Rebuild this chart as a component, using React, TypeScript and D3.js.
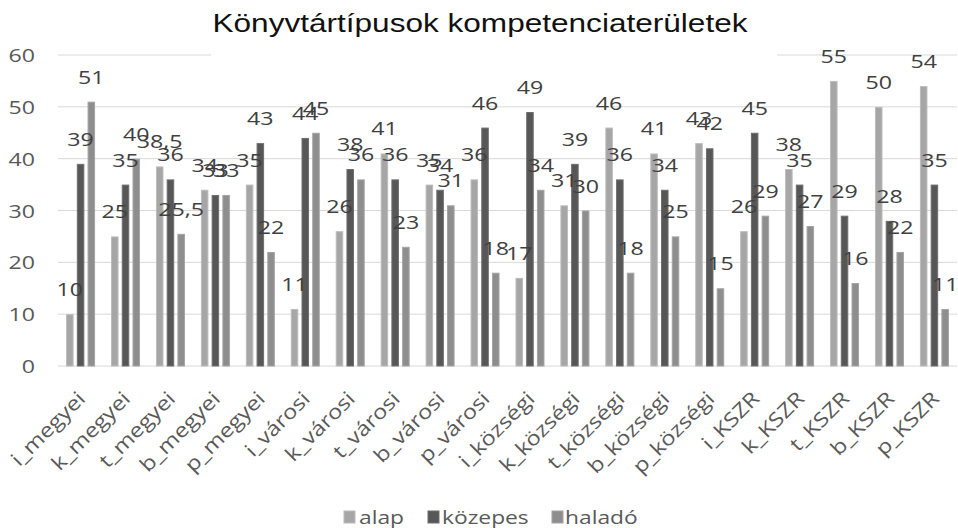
import { useMemo } from 'react';
import { scaleBand, scaleLinear } from 'd3';

const W = 958;
const H = 528;
const PLOT = { left: 58, right: 957, top: 55, bottom: 366 };

const TITLE = 'Könyvtártípusok kompetenciaterületek';
const CATEGORIES = [
  'i_megyei', 'k_megyei', 't_megyei', 'b_megyei', 'p_megyei',
  'i_városi', 'k_városi', 't_városi', 'b_városi', 'p_városi',
  'i_községi', 'k_községi', 't_községi', 'b_községi', 'p_községi',
  'i_KSZR', 'k_KSZR', 't_KSZR', 'b_KSZR', 'p_KSZR',
];
const SERIES = ['alap', 'közepes', 'haladó'];
const ALAP = [10, 25, 38.5, 34, 35, 11, 26, 41, 35, 36, 17, 31, 46, 41, 43, 26, 38, 55, 50, 54];
const KOZEPES = [39, 35, 36, 33, 43, 44, 38, 36, 34, 46, 49, 39, 36, 34, 42, 45, 35, 29, 28, 35];
const HALADO = [51, 40, 25.5, 33, 22, 45, 36, 23, 31, 18, 34, 30, 18, 25, 15, 29, 27, 16, 22, 11];
const Y_TICKS = [0, 10, 20, 30, 40, 50, 60];

const FILL: Record<string, string> = { alap: '#a6a6a6', közepes: '#575757', haladó: '#8e8e8e' };
const EDGE: Record<string, string> = { alap: '#bcbcbc', közepes: '#6e6e6e', haladó: '#a4a4a4' };

const FONT = '"Open Sans", sans-serif';
const fmt = (v: number) => String(v).replace('.', ',');

export default function App() {
  const x = useMemo(
    () => scaleBand<string>().domain(CATEGORIES).range([PLOT.left, PLOT.right]).paddingInner(0.355).paddingOuter(0.18),
    [],
  );
  const x1 = useMemo(
    () => scaleBand<string>().domain(SERIES).range([0, x.bandwidth()]).paddingInner(0.3),
    [x],
  );
  const y = useMemo(() => scaleLinear().domain([0, 60]).range([PLOT.bottom, PLOT.top]), []);

  const values: Record<string, number[]> = { alap: ALAP, közepes: KOZEPES, haladó: HALADO };

  const bars = CATEGORIES.flatMap((c, i) =>
    SERIES.map((s) => ({ key: `${c}-${s}`, s, v: values[s][i], x: (x(c) ?? 0) + (x1(s) ?? 0) })),
  );

  const legend = [
    { s: 'alap', sq: 344, tx: 359 },
    { s: 'közepes', sq: 428, tx: 442 },
    { s: 'haladó', sq: 552, tx: 565 },
  ];

  return (
    <svg
      width={W}
      height={H}
      style={{ position: 'absolute', left: 0, top: 0, background: '#fff' }}
      fontFamily={FONT}
    >
      {/* gridlines */}
      {Y_TICKS.map((t) => (
        <line key={t} x1={PLOT.left} x2={PLOT.right} y1={y(t)} y2={y(t)} stroke="#d9d9d9" strokeWidth={1} />
      ))}
      {Y_TICKS.map((t) => (
        <text
          key={t}
          transform={`translate(35,${y(t) + 7}) scale(1.22,1)`}
          textAnchor="end"
          fontSize={19}
          fill="#595959"
        >
          {t}
        </text>
      ))}

      {/* title box hides part of the top gridline */}
      <rect x={211} y={0} width={566} height={58} fill="#fff" />
      <text
        x={480}
        y={32}
        textAnchor="middle"
        fontFamily='"Liberation Sans", Arial, sans-serif'
        fontSize={26}
        fill="#111"
        textLength={535}
        lengthAdjust="spacingAndGlyphs"
      >
        {TITLE}
      </text>

      {bars.map((b) => (
        <rect
          key={b.key}
          x={b.x + 0.5}
          y={y(b.v) + 0.5}
          width={x1.bandwidth() - 1}
          height={y(0) - y(b.v) - 0.5}
          fill={FILL[b.s]}
          stroke={EDGE[b.s]}
          strokeWidth={1}
        />
      ))}
      {bars.map((b) => (
        <text
          key={b.key}
          transform={`translate(${b.x + x1.bandwidth() / 2},${y(b.v) - 18}) scale(1.22,1)`}
          textAnchor="middle"
          fontSize={19}
          fill="#404040"
        >
          {fmt(b.v)}
        </text>
      ))}

      {/* category labels, rotated 45° */}
      {CATEGORIES.map((c) => (
        <text
          key={c}
          transform={`translate(${(x(c) ?? 0) + x.bandwidth() / 2 + 6},400) rotate(-45) scale(1.18,1)`}
          textAnchor="end"
          fontSize={20}
          fill="#595959"
        >
          {c}
        </text>
      ))}

      {legend.map((l) => (
        <g key={l.s}>
          <rect x={l.sq} y={511} width={11} height={12} fill={FILL[l.s]} stroke={EDGE[l.s]} />
          <text transform={`translate(${l.tx},524) scale(1.2,1)`} fontSize={19} fill="#595959">
            {l.s}
          </text>
        </g>
      ))}
    </svg>
  );
}
